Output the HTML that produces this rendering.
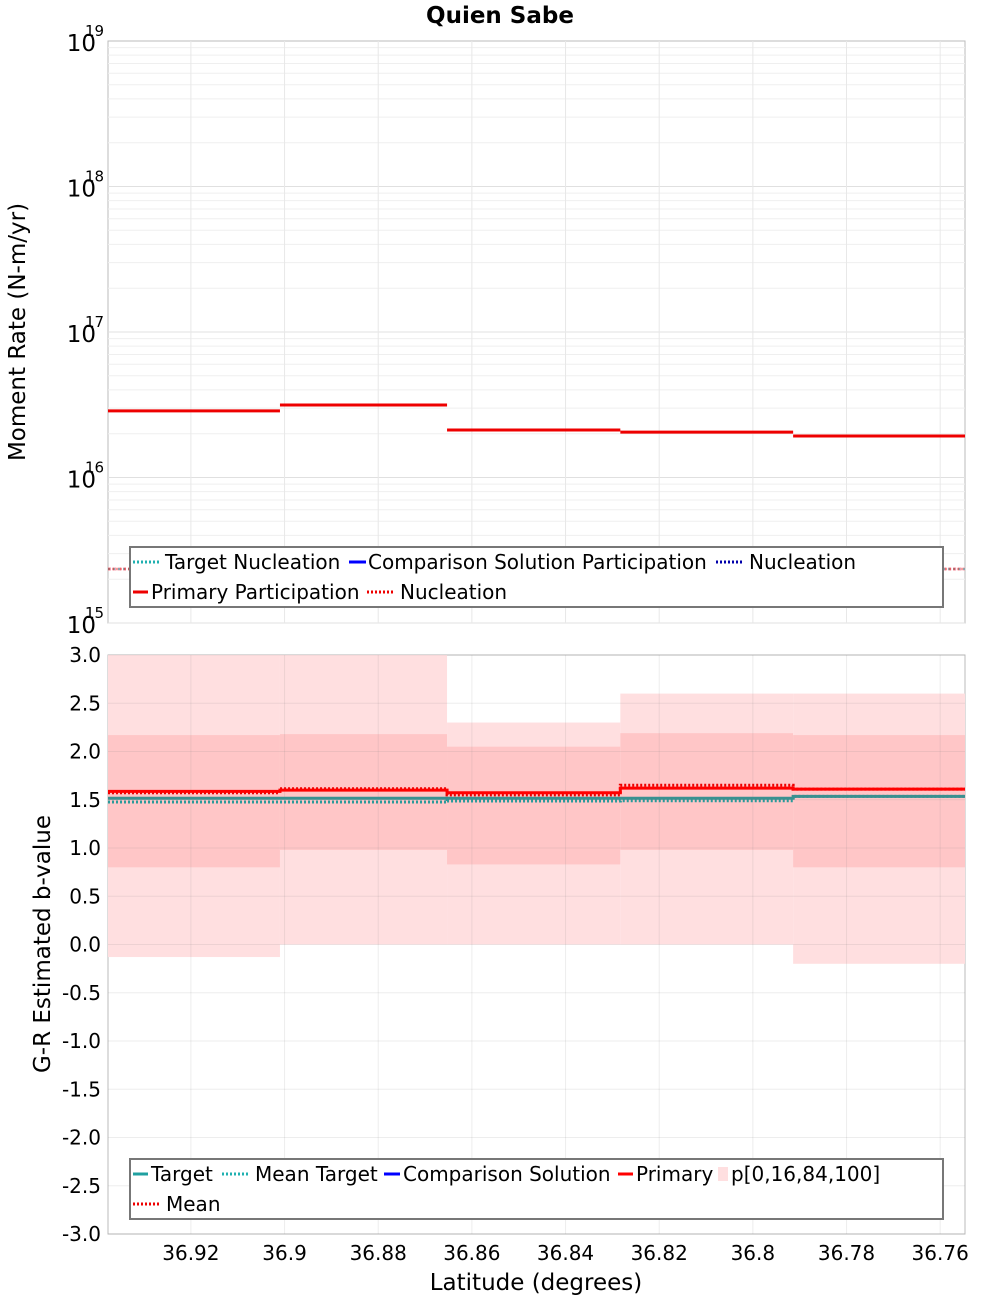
<!DOCTYPE html>
<html><head><meta charset="utf-8"><style>
body{margin:0;background:#fff;font-family:"DejaVu Sans","Liberation Sans",sans-serif;}
svg text{font-family:"DejaVu Sans","Liberation Sans",sans-serif;}
</style></head><body>
<svg id="chart" width="1000" height="1300" xmlns="http://www.w3.org/2000/svg"></svg>
<script>
const latEdges=[36.9377,36.90098,36.8653,36.8283,36.7914,36.7547];
const xTicks=[36.92,36.9,36.88,36.86,36.84,36.82,36.8,36.78,36.76];
const primaryPart=[2.87e16,3.15e16,2.12e16,2.05e16,1.93e16];
const nucleation=[2.35e15,2.35e15,2.35e15,2.35e15,2.35e15];
const yTopTicks=[15,16,17,18,19];
const bPrimary=[1.587,1.60,1.573,1.62,1.61];
const bMean=[1.573,1.614,1.55,1.65,1.61];
const bTarget=[1.515,1.515,1.515,1.515,1.535];
const bMeanTarget=[1.477,1.477,1.487,1.49,1.535];
const p0=[-0.13,0.0,0.0,0.0,-0.2];
const p16=[0.80,0.98,0.83,0.98,0.80];
const p84=[2.17,2.18,2.05,2.19,2.17];
const p100=[3.0,3.0,2.3,2.6,2.6];
const yBotTicks=[3,2.5,2,1.5,1,0.5,0,-0.5,-1,-1.5,-2,-2.5,-3];

const L=108,R=965,T1=41,B1=623,T2=655,B2=1234;
const X=v=>L+(latEdges[0]-v)/(latEdges[0]-latEdges[5])*(R-L);
const Y1=v=>B1-(Math.log10(v)-15)/4*(B1-T1);
const Y2=v=>B2-(v+3)/6*(B2-T2);
const svg=document.getElementById('chart');
function el(tag,attrs,parent){const e=document.createElementNS('http://www.w3.org/2000/svg',tag);for(const k in attrs)e.setAttribute(k,attrs[k]);(parent||svg).appendChild(e);return e;}
function txt(s,attrs,parent){const e=el('text',attrs,parent);e.textContent=s;return e;}

const title=txt('Quien Sabe',{x:500,y:23,'text-anchor':'middle','font-size':23,'font-weight':'bold'});



// ---- top panel ----
const g1=el('g',{});


el('rect',{x:L,y:T1,width:R-L,height:B1-T1,fill:'#fff',stroke:'#bbb'},g1);
for(let d=15;d<19;d++)for(let m=1;m<10;m++){const y=Y1(m*Math.pow(10,d));el('line',{x1:L,x2:R,y1:y,y2:y,stroke:m==1?'#e0e0e0':'#efefef','stroke-width':1},g1);}
xTicks.forEach(t=>{el('line',{x1:X(t),x2:X(t),y1:T1,y2:B1,stroke:'#e8e8e8'},g1);});
yTopTicks.forEach(p=>{const y=Y1(Math.pow(10,p));const t=txt('10',{x:96,y:y+10,'text-anchor':'end','font-size':23},g1);

txt(String(p),{x:85,y:y-5,'font-size':15},g1);});
function steps(vals,Yf,attrs,parent,name,noVert){let d='';vals.forEach((v,i)=>{const x1=X(latEdges[i]),x2=X(latEdges[i+1]),y=Yf(v);d+=((i&&!noVert)?'L':'M')+x1+' '+y+'L'+x2+' '+y;});const p=el('path',Object.assign({d:d,fill:'none'},attrs),parent);return p;}
steps(nucleation,Y1,{stroke:'#f4a0b0','stroke-width':3,'stroke-dasharray':'3 2'},g1,'target-nucleation-line',true);
steps(nucleation,Y1,{stroke:'#20a8a8','stroke-width':2,'stroke-dasharray':'2 3',opacity:0.5},g1,'nucleation-line',true);
steps(nucleation,Y1,{stroke:'#e00','stroke-width':2.5,'stroke-dasharray':'2 2',opacity:0.4},g1,'primary-nucleation-line',true);
steps(primaryPart,Y1,{stroke:'#e00','stroke-width':3},g1,'primary-participation-line',true);
const yl1=txt('Moment Rate (N-m/yr)',{x:25,y:332,'text-anchor':'middle','font-size':23,transform:'rotate(-90 25 332)'});

// legend top
const lg1=el('g',{});
el('rect',{x:130,y:547,width:813,height:60,fill:'#fff',stroke:'#777','stroke-width':2},lg1);
function lent(x,w,tx,y,color,dash,label,g){el('line',{x1:x,x2:x+w,y1:y,y2:y,stroke:color,'stroke-width':3,'stroke-dasharray':dash||'none'},g);const t=txt(label,{x:tx,y:y+7,'font-size':20},g);}
lent(133,28,165,562,'#20b0b0','2 2','Target Nucleation',lg1);
lent(349,17,368,562,'#00f',null,'Comparison Solution Participation',lg1);
lent(716,28,749,562,'#00a','2 2','Nucleation',lg1);
lent(133,15,151,592,'#e00',null,'Primary Participation',lg1);
lent(367,28,400,592,'#e00','2 2','Nucleation',lg1);

// ---- bottom panel ----
const g2=el('g',{});
el('rect',{x:L,y:T2,width:R-L,height:B2-T2,fill:'#fff',stroke:'#bbb'},g2);
p0.forEach((v,i)=>{const x1=X(latEdges[i]),x2=X(latEdges[i+1]);
const r=el('rect',{x:x1,y:Y2(p100[i]),width:x2-x1,height:Y2(v)-Y2(p100[i]),fill:'#ffdfe0'},g2);
const r2=el('rect',{x:x1,y:Y2(p84[i]),width:x2-x1,height:Y2(p16[i])-Y2(p84[i]),fill:'#ffc6c7'},g2);});
yBotTicks.forEach(t=>{const y=Y2(t);el('line',{x1:L,x2:R,y1:y,y2:y,stroke:'#888','stroke-opacity':0.15},g2);const s=txt(t.toFixed(1),{x:101,y:y+7,'text-anchor':'end','font-size':20},g2);});
xTicks.forEach(t=>{el('line',{x1:X(t),x2:X(t),y1:T2,y2:B2,stroke:'#888','stroke-opacity':0.15},g2);const s=txt(String(t),{x:X(t),y:1260,'text-anchor':'middle','font-size':20},g2);});
steps(bMeanTarget,Y2,{stroke:'#2a9a9a','stroke-width':3,'stroke-dasharray':'2 2'},g2,'mean-target-line');
steps(bTarget,Y2,{stroke:'#3a9090','stroke-width':3},g2,'target-line');
steps(bMean,Y2,{stroke:'#e00','stroke-width':3,'stroke-dasharray':'2 2'},g2,'mean-line');
steps(bPrimary,Y2,{stroke:'#f00','stroke-width':3},g2,'primary-line');
const yl2=txt('G-R Estimated b-value',{x:50,y:944,'text-anchor':'middle','font-size':23,transform:'rotate(-90 50 944)'});

const xl=txt('Latitude (degrees)',{x:536,y:1290,'text-anchor':'middle','font-size':23});

const lg2=el('g',{});
el('rect',{x:130,y:1159,width:813,height:60,fill:'#fff',stroke:'#777','stroke-width':2},lg2);
lent(133,15,151,1174,'#20a0a0',null,'Target',lg2);
lent(222,28,255,1174,'#20b0b0','2 2','Mean Target',lg2);
lent(384,16,403,1174,'#00f',null,'Comparison Solution',lg2);
lent(618,15,636,1174,'#f00',null,'Primary',lg2);
el('rect',{x:718,y:1167,width:10,height:14,fill:'#ffdfe0'},lg2);
const pl=txt('p[0,16,84,100]',{x:731,y:1181,'font-size':20},lg2);
lent(133,28,166,1204,'#e00','2 2','Mean',lg2);
</script>
</body></html>
